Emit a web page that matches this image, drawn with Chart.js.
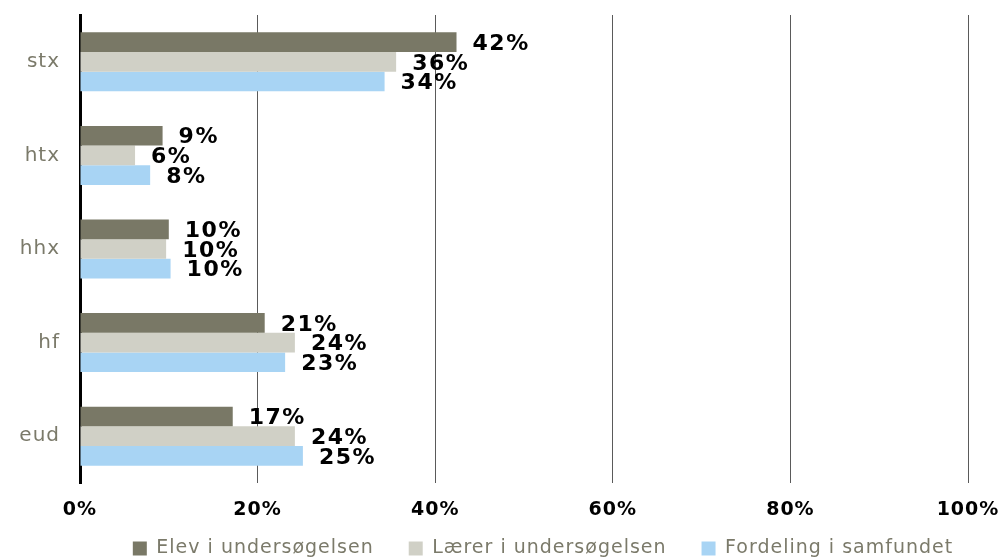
<!DOCTYPE html>
<html lang="da">
<head>
    <meta charset="utf-8">
    <style>
        html, body { margin: 0; padding: 0; background: #fff; }
        #wrap { width: 1003px; height: 558px; }
    </style>
</head>
<body>
    <div id="wrap">
        <canvas id="myChart"></canvas>
    </div>

    <script src="https://cdn.jsdelivr.net/npm/chart.js@4.4.1/dist/chart.umd.min.js"></script>
    <script>
        // data (percent)
        var categories = ['stx', 'htx', 'hhx', 'hf', 'eud'];
        var elevValues = [42.4, 9.3, 10.0, 20.8, 17.2];
        var laererValues = [35.6, 6.2, 9.7, 24.2, 24.2];
        var fordelingValues = [34.3, 7.9, 10.2, 23.1, 25.1];
        var seriesNames = ['Elev i undersøgelsen', 'Lærer i undersøgelsen', 'Fordeling i samfundet'];
        var tickValues = [0, 20, 40, 60, 80, 100];

        var colors = ['#797866', '#d0d0c6', '#a8d4f4'];
        var grayText = '#7b7a6a';

        // the original font (Verdana-like) runs wider than DejaVu, so open it up a bit
        var spacing = {
            id: 'spacing',
            beforeUpdate: function (chart) { chart.ctx.letterSpacing = '1px'; },
            beforeDraw: function (chart) { chart.ctx.letterSpacing = '1px'; }
        };

        // percent labels at the end of each bar
        var barLabels = {
            id: 'barLabels',
            afterDatasetsDraw: function (chart) {
                var ctx = chart.ctx;
                ctx.save();
                ctx.font = 'bold 22px "DejaVu Sans"';
                ctx.fillStyle = '#000';
                ctx.textAlign = 'left';
                ctx.textBaseline = 'middle';
                ctx.letterSpacing = '1.5px';
                chart.data.datasets.forEach(function (ds, i) {
                    chart.getDatasetMeta(i).data.forEach(function (bar, j) {
                        ctx.fillText(Math.round(ds.data[j]) + '%', bar.x + 16, bar.y + 2);
                    });
                });
                ctx.restore();
            }
        };

        // legend sits centred under the plot area and a bit closer to the ticks
        var legendShift = {
            id: 'legendShift',
            afterLayout: function (chart) {
                chart.legend.left += 59;
                chart.legend.right += 59;
                chart.legend.top -= 21;
                chart.legend.bottom -= 21;
            }
        };

        var ctx = document.getElementById('myChart').getContext('2d');
        var chart = new Chart(ctx, {
            type: 'bar',
            data: {
                labels: categories,
                datasets: [
                    { label: seriesNames[0], data: elevValues, backgroundColor: colors[0] },
                    { label: seriesNames[1], data: laererValues, backgroundColor: colors[1] },
                    { label: seriesNames[2], data: fordelingValues, backgroundColor: colors[2] }
                ]
            },
            options: {
                indexAxis: 'y',
                responsive: true,
                maintainAspectRatio: false,
                animation: false,
                layout: { padding: { top: 15, right: 35, left: 0, bottom: -31 } },
                datasets: {
                    bar: { categoryPercentage: 0.63, barPercentage: 1.0 }
                },
                scales: {
                    x: {
                        min: 0,
                        max: 100,
                        afterBuildTicks: function (scale) {
                            scale.ticks = tickValues.map(function (v) { return { value: v }; });
                        },
                        ticks: {
                            callback: function (v) { return v + '%'; },
                            font: { family: '"DejaVu Sans"', size: 19, weight: 'bold' },
                            color: '#000',
                            padding: 16,
                            maxRotation: 0
                        },
                        grid: { color: '#5a5a5a', lineWidth: 1, drawTicks: false },
                        border: { display: false },
                        afterFit: function (scale) {
                            scale.height = 42;
                            scale.paddingLeft = 0;
                            scale.paddingRight = 0;
                        }
                    },
                    y: {
                        ticks: {
                            font: { family: '"DejaVu Sans"', size: 20 },
                            color: grayText,
                            padding: 20
                        },
                        grid: { display: false, drawTicks: false },
                        border: { color: '#000', width: 3 },
                        afterFit: function (scale) {
                            scale.width = 80;
                            scale.paddingTop = 0;
                            scale.paddingBottom = 0;
                        }
                    }
                },
                plugins: {
                    legend: {
                        position: 'bottom',
                        labels: {
                            boxWidth: 14,
                            boxHeight: 14,
                            padding: 35,
                            color: grayText,
                            font: { family: '"DejaVu Sans"', size: 19 }
                        }
                    },
                    tooltip: { enabled: false }
                }
            },
            plugins: [spacing, barLabels, legendShift]
        });
    </script>
</body>
</html>
